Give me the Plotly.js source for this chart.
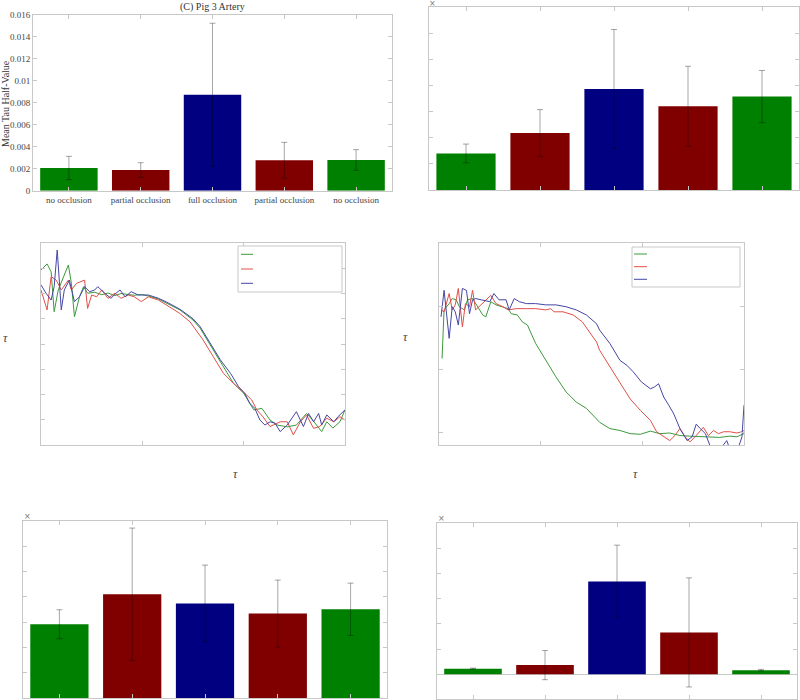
<!DOCTYPE html>
<html>
<head>
<meta charset="utf-8">
<script src="https://cdn.plot.ly/plotly-3.0.1.min.js"></script>
<style>html,body{margin:0;padding:0;background:#fff;}#chart{width:800px;height:700px;}</style>
</head>
<body>
<div id="chart"></div>
<script>
// ---------- DATA ----------
const categories = ["no occlusion", "partial occlusion", "full occlusion", "partial occlusion", "no occlusion"];
const categoryPos = [1, 2, 3, 4, 5];
const barColors = ["#008000", "#800000", "#000080", "#800000", "#008000"];

// (C) Pig 3 Artery – mean tau half-value
const pig3Mean = [0.00207, 0.00188, 0.00874, 0.00277, 0.00280];
const pig3Err  = [0.00106, 0.00067, 0.00651, 0.00163, 0.00094];
const pig3TickVals = [0, 0.002, 0.004, 0.006, 0.008, 0.01, 0.012, 0.014, 0.016];
const pig3TickText = ["0", "0.002", "0.004", "0.006", "0.008", "0.01", "0.012", "0.014", "0.016"];

// top-right panel (x10^-3)
const topRightMean = [1.40, 2.18, 3.87, 3.21, 3.58];
const topRightErr  = [0.36, 0.90, 2.28, 1.53, 1.00];

// bottom-left panel (x10^-3)
const bottomLeftMean = [2.92, 4.10, 3.74, 3.34, 3.51];
const bottomLeftErr  = [0.57, 2.61, 1.51, 1.32, 1.03];

// bottom-right panel (x10^-3)
const bottomRightMean = [0.22, 0.36, 3.69, 1.66, 0.16];
const bottomRightErr  = [0.02, 0.58, 1.44, 2.17, 0.03];

// middle-left decay curves
const midLeftGreenT = [0.00,0.06,0.10,0.13,0.17,0.22,0.27,0.30,0.33,0.38,0.42,0.46,0.53,0.60,0.66,0.73,0.79,0.86,0.92,0.99,1.06,1.16,1.24,1.37,1.50,1.57,1.64,1.80,1.90,2.00,2.10,2.18,2.26,2.33,2.43,2.52,2.62,2.68,2.77,2.82,2.88,2.95,3.00];
const midLeftGreenV = [6.93,7.17,6.86,5.28,6.14,6.67,7.13,6.40,5.08,5.87,6.27,6.01,6.05,5.95,6.02,5.92,6.00,5.96,5.93,5.96,5.90,5.78,5.62,5.35,4.95,4.63,4.16,3.10,2.44,2.05,1.39,1.45,0.99,0.79,0.72,0.79,1.25,0.99,0.53,0.92,0.67,0.92,1.39];

const midLeftRedT = [0.00,0.06,0.10,0.15,0.20,0.27,0.30,0.35,0.43,0.46,0.50,0.55,0.60,0.66,0.73,0.79,0.86,0.92,0.99,1.06,1.16,1.24,1.37,1.47,1.60,1.70,1.80,1.90,1.96,2.03,2.08,2.13,2.19,2.26,2.36,2.43,2.49,2.56,2.62,2.69,2.75,2.82,2.89,2.95,3.00];
const midLeftRedV = [6.14,5.35,6.67,6.53,6.14,6.53,6.14,6.40,6.53,5.41,5.94,5.87,6.14,5.81,6.01,5.81,5.94,5.87,5.68,5.87,5.74,5.55,5.21,4.88,4.16,3.50,2.84,2.44,2.24,1.98,1.78,1.39,1.12,0.73,0.92,0.92,0.40,0.92,1.19,0.66,0.73,1.06,0.92,1.12,0.99];

const midLeftBlueT = [0.00,0.05,0.10,0.13,0.16,0.20,0.23,0.28,0.33,0.38,0.43,0.48,0.53,0.56,0.63,0.69,0.74,0.78,0.83,0.89,0.96,1.06,1.16,1.24,1.37,1.50,1.57,1.67,1.77,1.87,1.95,2.01,2.06,2.11,2.16,2.21,2.26,2.31,2.36,2.43,2.52,2.59,2.64,2.69,2.74,2.77,2.82,2.89,2.93,3.00];
const midLeftBlueV = [6.34,6.01,5.74,6.27,7.72,5.35,6.14,6.53,5.68,5.87,6.27,6.07,6.14,6.27,6.01,5.81,6.01,6.14,5.87,6.07,5.94,5.94,5.81,5.66,5.38,5.00,4.69,4.03,3.37,2.84,2.31,2.05,1.65,1.45,0.99,0.79,0.92,0.86,0.53,0.79,1.32,0.73,1.25,0.92,1.25,0.79,1.19,0.92,1.12,1.39];

// middle-right decay curves
const midRightGreenT = [0.03,0.05,0.10,0.13,0.17,0.20,0.25,0.28,0.33,0.38,0.43,0.46,0.51,0.56,0.63,0.68,0.71,0.77,0.82,0.87,0.95,1.05,1.15,1.25,1.35,1.45,1.50,1.58,1.68,1.78,1.88,1.98,2.08,2.17,2.27,2.37,2.47,2.57,2.67,2.76,2.86,2.93,3.00];
const midRightGreenV = [1.17,1.94,2.04,2.12,2.10,1.99,1.94,2.10,2.12,1.99,1.86,1.83,2.07,2.02,1.99,1.96,1.88,1.86,1.75,1.70,1.41,1.14,0.88,0.64,0.48,0.38,0.30,0.16,0.06,0.03,-0.02,-0.03,0.02,-0.02,-0.01,-0.05,-0.06,-0.07,-0.08,-0.08,-0.06,-0.07,-0.02];

const midRightRedT = [0.02,0.05,0.10,0.13,0.16,0.19,0.23,0.26,0.30,0.33,0.36,0.41,0.46,0.51,0.56,0.63,0.68,0.76,0.86,0.95,1.05,1.10,1.13,1.22,1.32,1.41,1.48,1.55,1.58,1.68,1.78,1.88,1.98,2.08,2.14,2.21,2.27,2.32,2.37,2.42,2.47,2.53,2.60,2.65,2.70,2.75,2.80,2.86,2.93,2.98,3.00];
const midRightRedV = [1.94,1.91,2.20,1.94,2.02,2.28,1.67,2.04,1.99,2.25,1.94,2.02,2.10,2.17,2.04,1.99,1.94,1.96,1.96,1.96,1.94,1.96,1.91,1.91,1.86,1.75,1.59,1.43,1.30,1.04,0.77,0.53,0.35,0.19,0.01,-0.07,-0.13,-0.05,0.06,-0.07,-0.15,-0.05,0.08,-0.05,0.03,-0.02,0.01,0.01,-0.01,0.01,0.03];

const midRightBlueT = [0.02,0.05,0.10,0.13,0.16,0.19,0.23,0.27,0.30,0.33,0.36,0.43,0.50,0.54,0.59,0.66,0.69,0.74,0.79,0.86,0.95,1.05,1.15,1.25,1.35,1.45,1.49,1.55,1.58,1.68,1.78,1.85,1.91,1.99,2.08,2.12,2.16,2.21,2.26,2.31,2.37,2.44,2.49,2.53,2.57,2.62,2.67,2.73,2.83,2.86,2.94,2.98,3.00];
const midRightBlueV = [1.83,2.25,1.49,1.99,1.91,1.70,2.28,2.25,1.88,2.10,2.12,2.10,2.07,2.20,2.10,2.10,1.94,2.12,2.07,2.04,2.04,2.02,2.02,1.99,1.94,1.86,1.80,1.72,1.62,1.41,1.14,1.06,0.96,0.80,0.69,0.72,0.77,0.56,0.43,0.29,0.06,-0.13,-0.07,0.13,0.06,-0.02,-0.23,-0.34,-0.13,-0.26,-0.26,-0.07,0.43];

// ---------- STYLE ----------
const axisGray = "#c8c8c8";
const serif = "Liberation Serif, Times New Roman, serif";
const lineGreen = "#3c9a3c", lineRed = "#e0504a", lineBlue = "#4646a6";

function baseAxis(extra) {
  return Object.assign({
    showline: true, linecolor: axisGray, linewidth: 1, mirror: "ticks",
    ticks: "inside", ticklen: 4, tickcolor: axisGray, tickwidth: 1,
    showgrid: false, zeroline: false, showticklabels: false, fixedrange: true
  }, extra);
}

function barTrace(mean, err, xa, ya) {
  return {
    type: "bar", x: categoryPos, y: mean, xaxis: xa, yaxis: ya,
    marker: { color: barColors, line: { width: 0 } },
    width: 0.8,
    error_y: { type: "data", array: err, visible: true, color: "rgba(0,0,0,0.35)", thickness: 1, width: 3 },
    showlegend: false, hoverinfo: "skip"
  };
}
function lineTrace(t, v, color, xa, ya) {
  return { type: "scatter", mode: "lines", x: t, y: v, xaxis: xa, yaxis: ya,
    line: { color: color, width: 1 }, showlegend: false, hoverinfo: "skip" };
}

const data = [
  barTrace(pig3Mean, pig3Err, "x", "y"),
  barTrace(topRightMean, topRightErr, "x2", "y2"),
  lineTrace(midLeftGreenT, midLeftGreenV, lineGreen, "x3", "y3"),
  lineTrace(midLeftRedT, midLeftRedV, lineRed, "x3", "y3"),
  lineTrace(midLeftBlueT, midLeftBlueV, lineBlue, "x3", "y3"),
  lineTrace(midRightGreenT, midRightGreenV, lineGreen, "x4", "y4"),
  lineTrace(midRightRedT, midRightRedV, lineRed, "x4", "y4"),
  lineTrace(midRightBlueT, midRightBlueV, lineBlue, "x4", "y4"),
  barTrace(bottomLeftMean, bottomLeftErr, "x5", "y5"),
  barTrace(bottomRightMean, bottomRightErr, "x6", "y6")
];

const px = v => v / 800, py = v => 1 - v / 700;
const tickFont = { family: serif, size: 9, color: "#444" };

const layout = {
  width: 800, height: 700,
  margin: { l: 0, r: 0, t: 0, b: 0 },
  paper_bgcolor: "#fff", plot_bgcolor: "#fff",
  bargap: 0.2,
  xaxis: baseAxis({ domain: [px(33), px(392)], range: [0.5, 5.5], tickvals: categoryPos, ticktext: categories, showticklabels: true, tickfont: tickFont, anchor: "y" }),
  yaxis: baseAxis({ domain: [py(190.7), py(15)], range: [0, 0.016], tickvals: pig3TickVals, ticktext: pig3TickText, showticklabels: true, tickfont: tickFont, anchor: "x" }),
  xaxis2: baseAxis({ domain: [px(429), px(799)], range: [0.5, 5.5], tickvals: categoryPos, anchor: "y2" }),
  yaxis2: baseAxis({ domain: [py(190), py(7.3)], range: [0, 7], dtick: 1, anchor: "x2" }),
  xaxis3: baseAxis({ domain: [px(41), px(345)], range: [0, 3], tickvals: [1, 2], anchor: "y3" }),
  yaxis3: baseAxis({ domain: [py(445), py(243)], range: [0, 8], tickvals: [1, 2, 3, 4, 5, 6, 7], anchor: "x3" }),
  xaxis4: baseAxis({ domain: [px(439), px(744)], range: [0, 3], tickvals: [1, 2], anchor: "y4" }),
  yaxis4: baseAxis({ domain: [py(445), py(243)], range: [-0.2, 3], tickvals: [0, 1, 2], anchor: "x4" }),
  xaxis5: baseAxis({ domain: [px(23), px(387)], range: [0.5, 5.5], tickvals: categoryPos, anchor: "y5" }),
  yaxis5: baseAxis({ domain: [py(698.3), py(520.7)], range: [0, 7], dtick: 1, anchor: "x5" }),
  xaxis6: baseAxis({ domain: [px(437), px(797)], range: [0.5, 5.5], tickvals: categoryPos, anchor: "y6" }),
  yaxis6: baseAxis({ domain: [py(699.3), py(523.3)], range: [-1, 6], dtick: 1, zeroline: true, zerolinecolor: axisGray, zerolinewidth: 1, anchor: "x6" }),
  annotations: [
    { text: "(C) Pig 3 Artery", xref: "paper", yref: "paper", x: px(212), y: py(7.5), xanchor: "center", yanchor: "middle", showarrow: false, font: { family: serif, size: 10, color: "#333" } },
    { text: "Mean Tau Half-Value", xref: "paper", yref: "paper", x: px(5), y: py(104), xanchor: "center", yanchor: "middle", textangle: -90, showarrow: false, font: { family: serif, size: 10, color: "#333" } },
    { text: "<i>τ</i>", xref: "paper", yref: "paper", x: px(5), y: py(338), xanchor: "center", yanchor: "middle", showarrow: false, font: { family: serif, size: 12, color: "#444" } },
    { text: "<i>τ</i>", xref: "paper", yref: "paper", x: px(235), y: py(474), xanchor: "center", yanchor: "middle", showarrow: false, font: { family: serif, size: 12, color: "#444" } },
    { text: "<i>τ</i>", xref: "paper", yref: "paper", x: px(405), y: py(337), xanchor: "center", yanchor: "middle", showarrow: false, font: { family: serif, size: 12, color: "#444" } },
    { text: "<i>τ</i>", xref: "paper", yref: "paper", x: px(635), y: py(474), xanchor: "center", yanchor: "middle", showarrow: false, font: { family: serif, size: 12, color: "#444" } },
    { text: "×", xref: "paper", yref: "paper", x: px(432.5), y: py(3), xanchor: "center", yanchor: "middle", showarrow: false, font: { family: "DejaVu Sans", size: 8, color: "#777" } },
    { text: "×", xref: "paper", yref: "paper", x: px(27), y: py(516), xanchor: "center", yanchor: "middle", showarrow: false, font: { family: "DejaVu Sans", size: 8, color: "#777" } },
    { text: "×", xref: "paper", yref: "paper", x: px(441), y: py(518.5), xanchor: "center", yanchor: "middle", showarrow: false, font: { family: "DejaVu Sans", size: 8, color: "#777" } }
  ],
  shapes: [
    // legend boxes (no labels in the reference)
    { type: "rect", xref: "paper", yref: "paper", x0: px(238), x1: px(342), y0: py(292), y1: py(246), line: { color: axisGray, width: 1 }, fillcolor: "rgba(255,255,255,1)", layer: "above" },
    { type: "line", xref: "paper", yref: "paper", x0: px(241), x1: px(253), y0: py(254.3), y1: py(254.3), line: { color: lineGreen, width: 1 } },
    { type: "line", xref: "paper", yref: "paper", x0: px(241), x1: px(253), y0: py(269), y1: py(269), line: { color: lineRed, width: 1 } },
    { type: "line", xref: "paper", yref: "paper", x0: px(241), x1: px(253), y0: py(283.3), y1: py(283.3), line: { color: lineBlue, width: 1 } },
    { type: "rect", xref: "paper", yref: "paper", x0: px(632), x1: px(740), y0: py(287), y1: py(247), line: { color: axisGray, width: 1 }, fillcolor: "rgba(255,255,255,1)", layer: "above" },
    { type: "line", xref: "paper", yref: "paper", x0: px(634), x1: px(647), y0: py(254), y1: py(254), line: { color: lineGreen, width: 1 } },
    { type: "line", xref: "paper", yref: "paper", x0: px(634), x1: px(647), y0: py(266.7), y1: py(266.7), line: { color: lineRed, width: 1 } },
    { type: "line", xref: "paper", yref: "paper", x0: px(634), x1: px(647), y0: py(279.3), y1: py(279.3), line: { color: lineBlue, width: 1 } }
  ]
};

Plotly.newPlot("chart", data, layout, { staticPlot: true, displayModeBar: false });
</script>
</body>
</html>
